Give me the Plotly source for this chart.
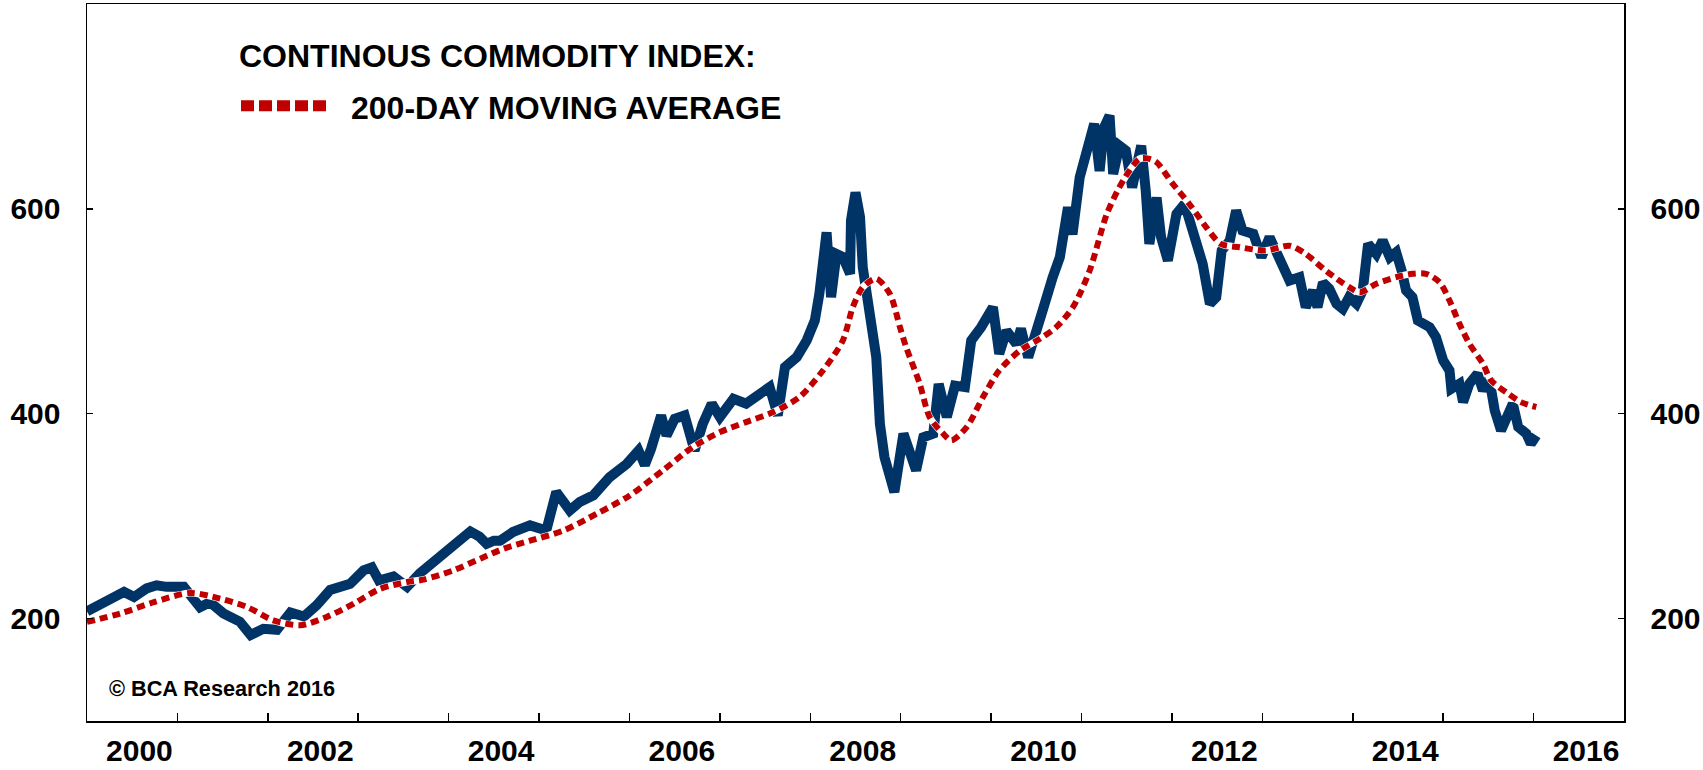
import plotly.graph_objects as go

# ---- data (decimal years) ----
cci_t = [2000.00, 2000.22, 2000.41, 2000.52, 2000.66, 2000.77, 2000.88, 2001.07, 2001.25, 2001.36,
         2001.51, 2001.69, 2001.81, 2001.95, 2002.10, 2002.25, 2002.40, 2002.54, 2002.69, 2002.91,
         2003.06, 2003.15, 2003.23, 2003.39, 2003.54, 2003.68, 2003.87, 2004.05, 2004.24, 2004.34,
         2004.42, 2004.50, 2004.57, 2004.71, 2004.90, 2005.08, 2005.19, 2005.27, 2005.34, 2005.45,
         2005.60, 2005.78, 2005.97, 2006.10, 2006.17, 2006.24, 2006.35, 2006.41, 2006.50, 2006.61,
         2006.72, 2006.81, 2006.91, 2007.00, 2007.15, 2007.29, 2007.44, 2007.55, 2007.64, 2007.72,
         2007.85, 2007.96, 2008.05, 2008.10, 2008.18, 2008.23, 2008.29, 2008.36, 2008.44, 2008.45,
         2008.50, 2008.55, 2008.58, 2008.64, 2008.73, 2008.77, 2008.82, 2008.93, 2009.03, 2009.17,
         2009.25, 2009.36, 2009.42, 2009.51, 2009.60, 2009.71, 2009.78, 2009.89, 2010.02, 2010.09,
         2010.17, 2010.28, 2010.33, 2010.41, 2010.50, 2010.57, 2010.68, 2010.76, 2010.85, 2010.90,
         2010.98, 2011.07, 2011.14, 2011.20, 2011.25, 2011.31, 2011.35, 2011.42, 2011.49, 2011.56,
         2011.66, 2011.71, 2011.75, 2011.83, 2011.88, 2011.955, 2012.05, 2012.14, 2012.25, 2012.34,
         2012.42, 2012.49, 2012.55, 2012.64, 2012.71, 2012.78, 2012.90, 2012.99, 2013.08, 2013.19,
         2013.30, 2013.41, 2013.48, 2013.56, 2013.61, 2013.67, 2013.74, 2013.82, 2013.89, 2013.96,
         2014.04, 2014.11, 2014.17, 2014.26, 2014.33, 2014.41, 2014.48, 2014.54, 2014.59, 2014.66,
         2014.72, 2014.85, 2014.92, 2015.00, 2015.07, 2015.09, 2015.18, 2015.22, 2015.29, 2015.38,
         2015.44, 2015.51, 2015.57, 2015.64, 2015.72, 2015.77, 2015.83, 2015.92, 2015.97, 2016.03]
cci_v = [207, 216, 226, 221, 229.5, 232.5, 231, 231, 211, 216,
         205, 197, 184, 190, 189, 206, 202, 213, 228, 234,
         247, 250, 237, 241, 231, 244, 257, 270, 285, 280,
         273, 276, 276, 284.5, 291, 286, 323.5, 314, 305.6, 313.8,
         320.3, 338, 351, 364, 350, 366, 398.3, 378.8, 395, 398.3,
         364, 390, 409.8, 396.7, 414.6, 409.8, 417.8, 426, 398.3, 445.5,
         455.2, 471.5, 491, 517, 577, 513.7, 556, 553, 536.6, 588.6,
         616, 592, 543, 510.5, 455, 390, 357.7, 323.5, 380.5, 344.7,
         377, 380.5, 429, 396.7, 427.4, 426, 471.5, 484.5, 504, 458.5,
         481, 468, 483, 455, 478, 500.8, 533, 552.8, 601.6, 575,
         631, 657, 683, 637, 679.6, 691, 634, 661.7, 657, 621,
         661.7, 617.9, 565.8, 611, 572.3, 549.6, 595, 604.9, 572.3, 546.3,
         507.3, 513.8, 559.3, 569, 598.3, 578.8, 575.6, 552.8, 572.3, 549.6,
         530, 533.3, 504, 520.3, 504, 528, 522, 507.3, 502.4, 513.8,
         507.3, 520.3, 565.8, 556, 569, 552.8, 557.7, 539.8, 520.3, 513.8,
         491, 484.5, 474.7, 452, 442.2, 424.4, 429.3, 411.3, 429.3, 439,
         422.7, 434, 403.2, 383.7, 400, 409.8, 387, 380.5, 370.7, 378.8]

ma_t = [2000.00, 2000.37, 2000.74, 2001.14, 2001.47, 2001.77, 2002.06, 2002.36, 2002.65, 2002.95,
        2003.24, 2003.54, 2003.72, 2004.05, 2004.35, 2004.61, 2004.90, 2005.27, 2005.64, 2006.00,
        2006.37, 2006.70, 2007.00, 2007.29, 2007.59, 2007.88, 2008.14, 2008.36, 2008.47, 2008.58,
        2008.73, 2008.88, 2008.99, 2009.06, 2009.21, 2009.32, 2009.47, 2009.56, 2009.73, 2009.91,
        2010.09, 2010.32, 2010.54, 2010.72, 2010.905, 2011.09, 2011.28, 2011.46, 2011.64, 2011.74,
        2011.83, 2012.01, 2012.19, 2012.38, 2012.54, 2012.75, 2013.04, 2013.30, 2013.48, 2013.70,
        2013.96, 2014.08, 2014.26, 2014.48, 2014.66, 2014.81, 2014.96, 2015.07, 2015.18,
        2015.29, 2015.44, 2015.53, 2015.72, 2015.86, 2016.03]
ma_v = [196.7, 205, 216, 225, 219.5, 211.3, 198.3, 193.5, 201.6, 214.6,
        229, 235.7, 238, 247, 258.5, 268.3, 276, 286, 302.4, 320,
        344.7, 367.4, 382, 391.8, 401.6, 416.2, 442.2, 471.5, 504, 523.5,
        531.7, 517, 485, 465, 429.3, 396.7, 380.5, 374, 387, 416.2,
        442.2, 461.7, 473.2, 484.5, 504, 539.8, 595, 627.6, 648.8, 649,
        645.5, 624.4, 605, 582, 565.8, 562.5, 559.3, 564, 556, 539.8,
        523.5, 518.6, 526.8, 533.3, 536.6, 536.6, 528.4, 510.5, 487.8,
        468.3, 448.8, 432.5, 419.5, 411.3, 406.5]

year_ticks = list(range(2000, 2018))
year_labels = ["2000", "2002", "2004", "2006", "2008", "2010", "2012", "2014", "2016"]
y_ticks = [200, 400, 600]

legend_title = "CONTINOUS COMMODITY INDEX:"
legend_ma = "200-DAY MOVING AVERAGE"
copyright_txt = "© BCA Research 2016"

BLUE = "#003366"
RED = "#C00000"
FONT = "Liberation Sans, Arial, sans-serif"

fig = go.Figure()
fig.add_trace(go.Scatter(x=cci_t, y=cci_v, mode="lines",
                         line=dict(color=BLUE, width=10), showlegend=False, hoverinfo="skip"))
fig.add_trace(go.Scatter(x=ma_t, y=ma_v, mode="lines",
                         line=dict(color="white", width=7, shape="spline", smoothing=0.8),
                         showlegend=False, hoverinfo="skip"))
fig.add_trace(go.Scatter(x=ma_t, y=ma_v, mode="lines",
                         line=dict(color=RED, width=6, dash="8px,5px", shape="spline", smoothing=0.8),
                         showlegend=False, hoverinfo="skip"))
# carrier for the label axis / right axis
fig.add_trace(go.Scatter(x=cci_t, y=cci_v, xaxis="x2", yaxis="y2", mode="lines",
                         line=dict(color="rgba(0,0,0,0)", width=0), showlegend=False, hoverinfo="skip"))

tickfont = dict(family=FONT, size=30, color="black", weight="bold")

fig.update_layout(
    width=1703, height=770,
    margin=dict(l=87, r=79, t=2, b=49),
    paper_bgcolor="white", plot_bgcolor="white",
    xaxis=dict(range=[2000, 2017], tickmode="array", tickvals=year_ticks,
               ticks="inside", ticklen=8, tickwidth=1.5, tickcolor="black",
               showticklabels=False, showline=True, linecolor="black", linewidth=1.5,
               mirror=True, showgrid=False, zeroline=False),
    xaxis2=dict(range=[2000, 2017], overlaying="x", anchor="y", side="bottom",
                tickmode="array", tickvals=[int(s) + 0.58 for s in year_labels], ticktext=year_labels,
                ticks="", showline=False, showgrid=False, zeroline=False, tickfont=tickfont,
                ticklabelstandoff=9),
    yaxis=dict(range=[100, 800], tickmode="array", tickvals=y_ticks,
               ticks="inside", ticklen=6, tickwidth=1.5, tickcolor="black",
               showline=True, linecolor="black", linewidth=1.5, showgrid=False, zeroline=False,
               tickfont=tickfont, ticklabelstandoff=19),
    yaxis2=dict(range=[100, 800], overlaying="y", side="right", anchor="x", tickmode="array",
                tickvals=y_ticks, ticks="inside", ticklen=6, tickwidth=1.5, tickcolor="black",
                showline=True, linecolor="black", linewidth=1.5, showgrid=False, zeroline=False,
                tickfont=tickfont, ticklabelstandoff=19),
)

W = 1537.0
H = 719.0
def px(x):
    return (x - 87) / W
def py(y):
    return (721 - y) / H

fig.add_annotation(xref="paper", yref="paper", x=px(237), y=py(54), xanchor="left", yanchor="middle",
                   text=legend_title, showarrow=False,
                   font=dict(family=FONT, size=32, color="black", weight="bold"))
fig.add_annotation(xref="paper", yref="paper", x=px(349), y=py(106), xanchor="left", yanchor="middle",
                   text=legend_ma, showarrow=False,
                   font=dict(family=FONT, size=32, color="black", weight="bold"))
fig.add_shape(type="line", xref="paper", yref="paper", x0=px(241), x1=px(326), y0=py(104), y1=py(104),
              line=dict(color=RED, width=11, dash="13px,5px"))
fig.add_annotation(xref="paper", yref="paper", x=px(107), y=py(688), xanchor="left", yanchor="middle",
                   text=copyright_txt, showarrow=False,
                   font=dict(family=FONT, size=21.7, color="black", weight="bold"))

fig.write_html("out.html", config={"displayModeBar": False, "staticPlot": True},
               post_script="document.body.style.margin='0px';")
